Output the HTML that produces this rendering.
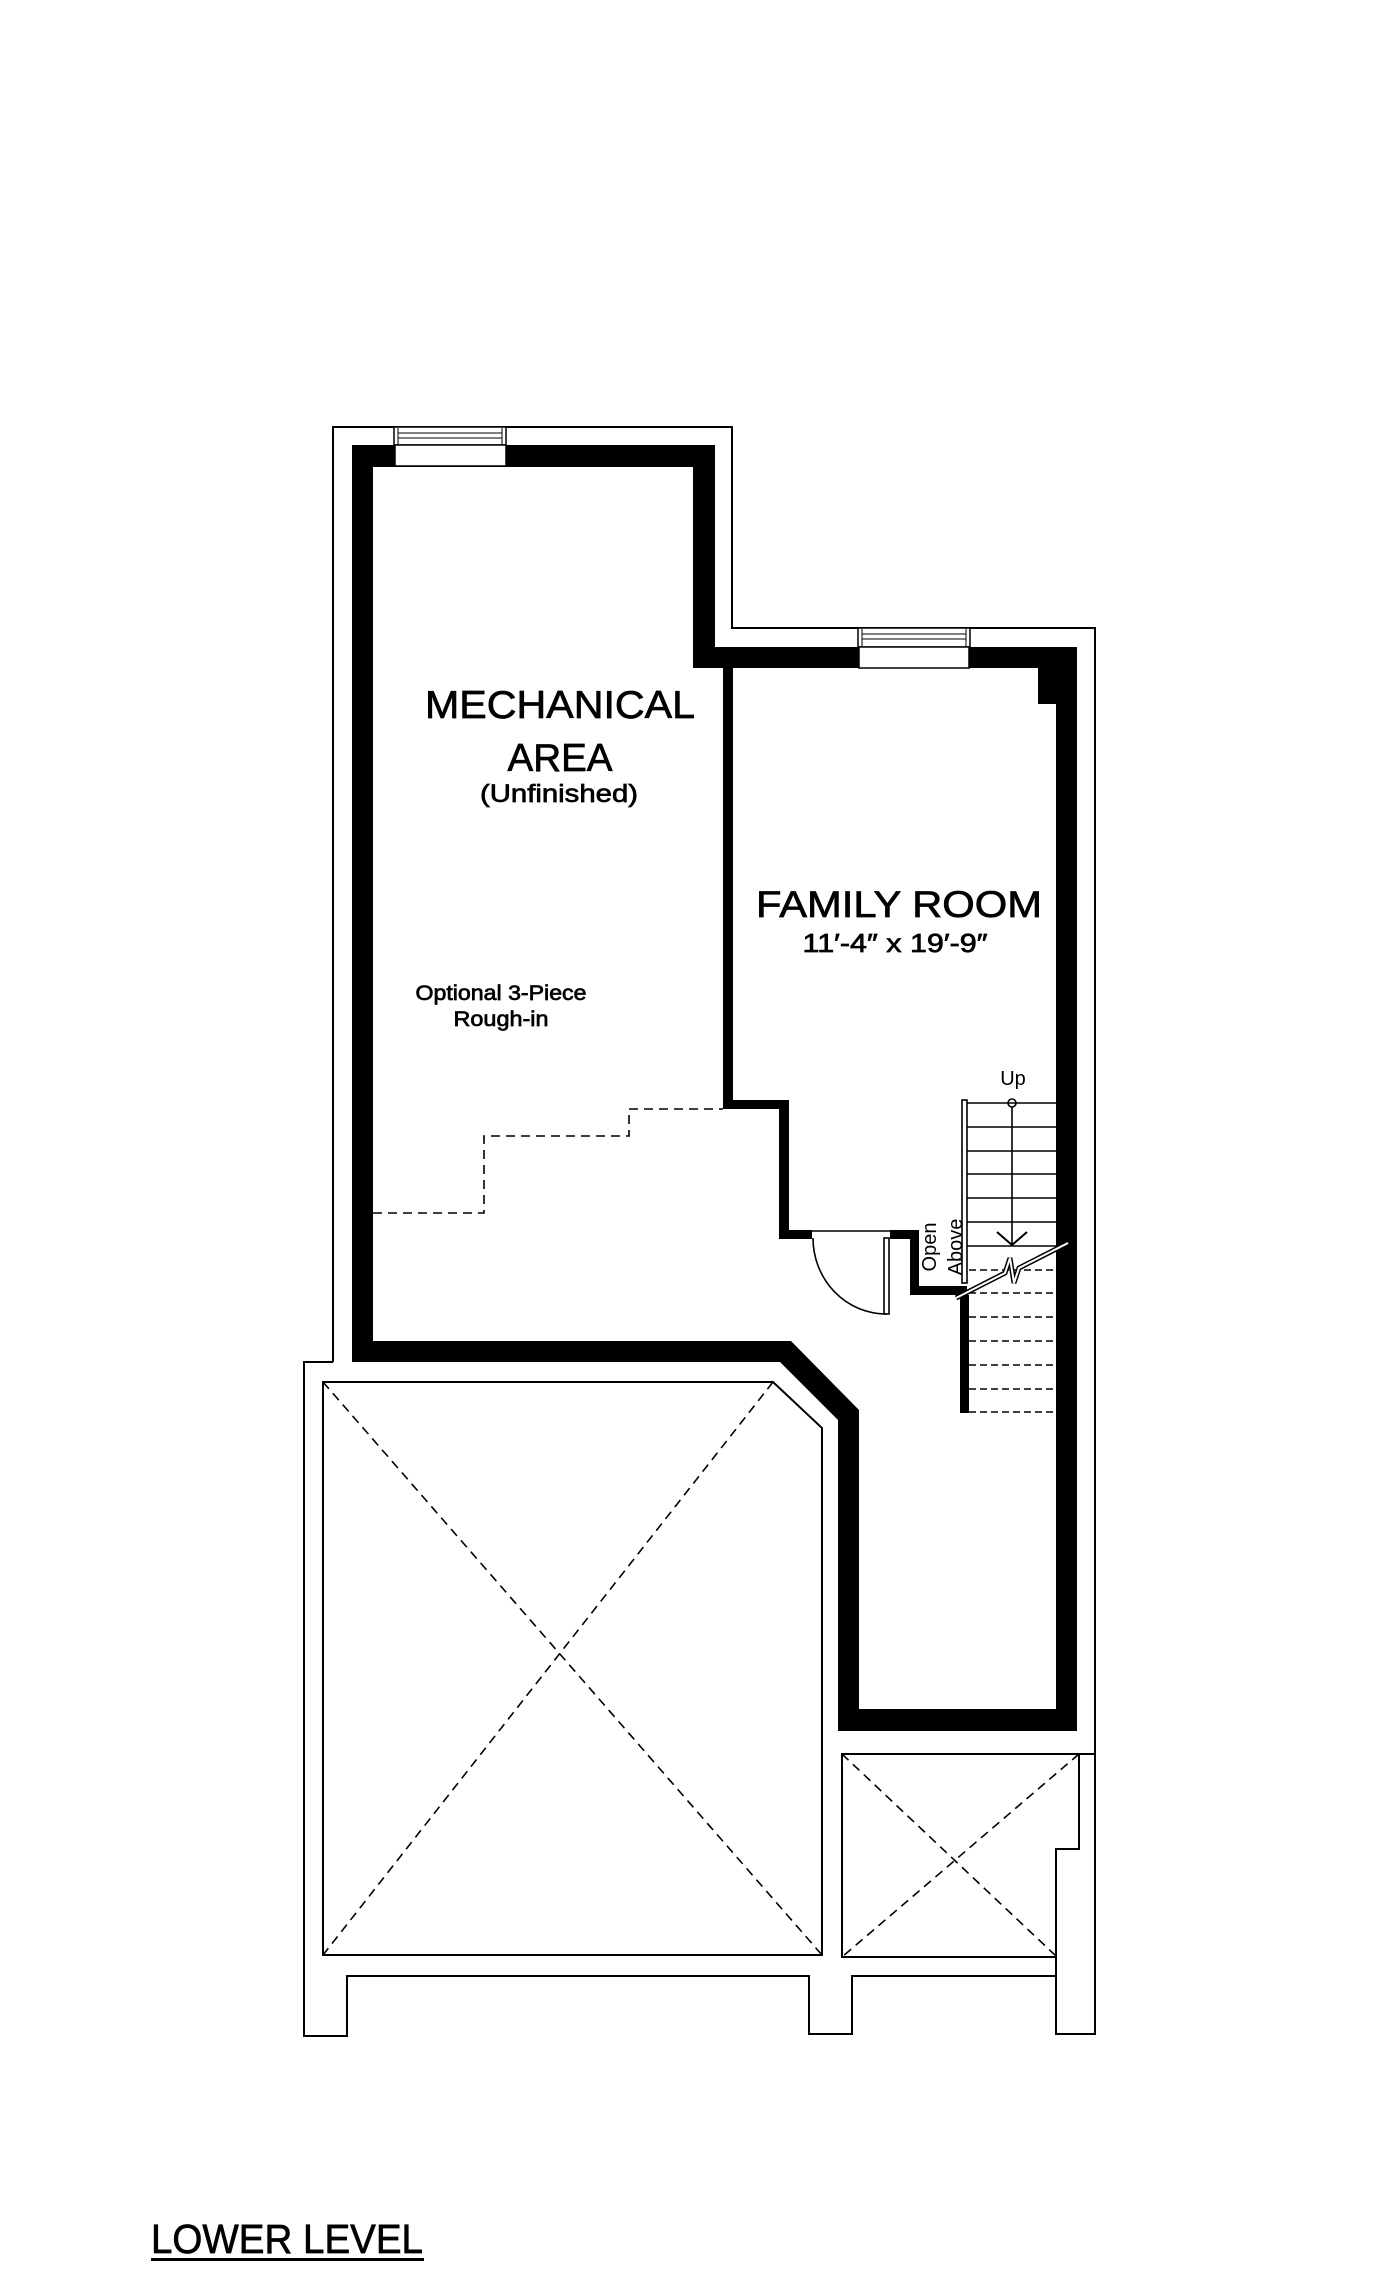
<!DOCTYPE html>
<html><head><meta charset="utf-8"><style>
html,body{margin:0;padding:0;background:#fff;}
svg{display:block;}
text{font-family:"Liberation Sans",sans-serif;fill:#000;}
.b{stroke:#000;stroke-width:0.7;}
</style></head><body>
<svg width="1400" height="2277" viewBox="0 0 1400 2277" xmlns="http://www.w3.org/2000/svg">
<rect width="1400" height="2277" fill="#fff"/>
<g fill="none" stroke="#000" stroke-width="2">
<path d="M333,1362 V427 H732 V628 H1095 V2034 H1056 V1957"/>
<path d="M333,1362 H304 V2036 H347 V1976 H809 V2034 H852 V1976 H1056"/>
<path d="M1079,1754 H1095"/>
<path d="M323,1382 H773 L822,1428 V1955 H323 Z"/>
<path d="M842,1754 H1079 V1849 H1056 V1957 H842 Z"/>
</g>
<g fill="none" stroke="#000" stroke-width="1.6" stroke-dasharray="9,6">
<line x1="323" y1="1382" x2="822" y2="1955"/>
<line x1="773" y1="1382" x2="323" y2="1955"/>
<line x1="842" y1="1754" x2="1056" y2="1956"/>
<line x1="1079" y1="1754" x2="842" y2="1957"/>
<path d="M373,1213 H484 V1136 H629 V1109 H723"/>
</g>
<g fill="#000">
<rect x="352" y="445" width="21" height="917"/>
<rect x="352" y="445" width="363" height="22"/>
<rect x="693" y="445" width="22" height="223"/>
<rect x="693" y="647" width="384" height="21"/>
<rect x="1056" y="647" width="21" height="1084"/>
<rect x="1038" y="668" width="18" height="36"/>
<polygon points="352,1341 791,1341 859,1410 859,1731 838,1731 838,1420 780,1362 352,1362"/>
<rect x="838" y="1709" width="239" height="22"/>
<rect x="723" y="668" width="10" height="441"/>
<rect x="723" y="1100" width="66" height="9"/>
<rect x="779" y="1100" width="10" height="139"/>
<rect x="779" y="1230" width="33" height="9"/>
<rect x="890" y="1230" width="29" height="9"/>
<rect x="910" y="1230" width="9" height="65"/>
<rect x="910" y="1286" width="57" height="9"/>
<rect x="960" y="1295" width="9" height="118"/>
</g>
<g fill="#fff" stroke="#000" stroke-width="1.5">
<rect x="394" y="427" width="112" height="18"/>
<rect x="395" y="445" width="111" height="21"/>
<rect x="858" y="628" width="112" height="19"/>
<rect x="859" y="647" width="110" height="21"/>
</g>
<g stroke="#000" stroke-width="1">
<line x1="398" y1="433" x2="502" y2="433"/><line x1="398" y1="438" x2="502" y2="438"/>
<line x1="862" y1="634" x2="966" y2="634"/><line x1="862" y1="639" x2="966" y2="639"/>
<line x1="398" y1="428" x2="398" y2="445"/><line x1="502" y1="428" x2="502" y2="445"/>
<line x1="862" y1="629" x2="862" y2="647"/><line x1="966" y1="629" x2="966" y2="647"/>
</g>
<g fill="none" stroke="#000" stroke-width="1.6">
<line x1="812" y1="1231" x2="890" y2="1231"/>
<rect x="884" y="1238" width="5" height="76"/>
<path d="M813,1238 A73,76 0 0 0 886,1314"/>
</g>
<g stroke="#000" stroke-width="1.6" fill="none">
<rect x="962" y="1100" width="5" height="183"/>
<line x1="967" y1="1103" x2="1056" y2="1103"/>
<line x1="967" y1="1127" x2="1056" y2="1127"/>
<line x1="967" y1="1151" x2="1056" y2="1151"/>
<line x1="967" y1="1174" x2="1056" y2="1174"/>
<line x1="967" y1="1198" x2="1056" y2="1198"/>
<line x1="967" y1="1222" x2="1056" y2="1222"/>
<line x1="967" y1="1246" x2="1056" y2="1246"/>
<line x1="1012" y1="1107" x2="1012" y2="1245"/>
<circle cx="1012" cy="1103" r="4"/>
<polyline points="997,1232 1012,1245 1027,1232" stroke-width="2"/>
</g>
<g stroke="#000" stroke-width="1.6" stroke-dasharray="7,4">
<line x1="969" y1="1270" x2="1056" y2="1270"/>
<line x1="969" y1="1293" x2="1056" y2="1293"/>
<line x1="969" y1="1317" x2="1056" y2="1317"/>
<line x1="969" y1="1341" x2="1056" y2="1341"/>
<line x1="969" y1="1365" x2="1056" y2="1365"/>
<line x1="969" y1="1389" x2="1056" y2="1389"/>
<line x1="969" y1="1412" x2="1056" y2="1412"/>
</g>
<path d="M956,1298 L1005,1273 L1010,1258 L1014,1283 L1019,1268 L1068,1243" fill="none" stroke="#000" stroke-width="5"/>
<path d="M956,1298 L1005,1273 L1010,1258 L1014,1283 L1019,1268 L1068,1243" fill="none" stroke="#fff" stroke-width="2"/>
<text class="b" x="560" y="718" font-size="39" text-anchor="middle" textLength="270" lengthAdjust="spacingAndGlyphs">MECHANICAL</text>
<text class="b" x="560" y="771" font-size="39" text-anchor="middle" textLength="105" lengthAdjust="spacingAndGlyphs">AREA</text>
<text class="b" x="559" y="802" font-size="25" text-anchor="middle" textLength="158" lengthAdjust="spacingAndGlyphs">(Unfinished)</text>
<text class="b" x="501" y="1000" font-size="21" text-anchor="middle" textLength="171" lengthAdjust="spacingAndGlyphs">Optional 3-Piece</text>
<text class="b" x="501" y="1026" font-size="21" text-anchor="middle" textLength="95" lengthAdjust="spacingAndGlyphs">Rough-in</text>
<text class="b" x="899" y="917" font-size="37" text-anchor="middle" textLength="286" lengthAdjust="spacingAndGlyphs">FAMILY ROOM</text>
<text class="b" x="895" y="952" font-size="26" text-anchor="middle" textLength="185" lengthAdjust="spacingAndGlyphs">11′-4″ x 19′-9″</text>
<text x="1013" y="1085" font-size="20" text-anchor="middle">Up</text>
<text transform="translate(936,1247) rotate(-90)" font-size="20" text-anchor="middle">Open</text>
<text transform="translate(962,1247) rotate(-90)" font-size="20" text-anchor="middle">Above</text>
<text class="b" x="151" y="2253" font-size="41" textLength="272" lengthAdjust="spacingAndGlyphs">LOWER LEVEL</text>
<rect x="151" y="2258" width="273" height="3" fill="#000"/>
</svg>
</body></html>
